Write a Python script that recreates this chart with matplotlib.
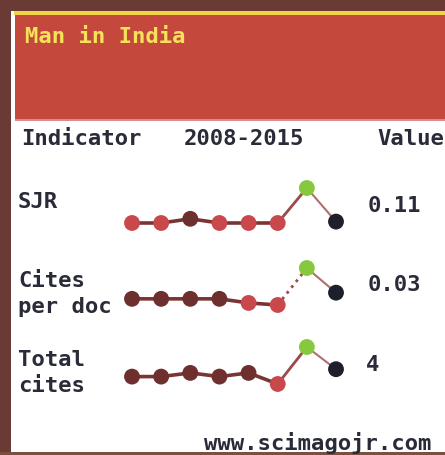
import matplotlib
matplotlib.use("Agg")
import matplotlib.pyplot as plt
from matplotlib.patches import Rectangle

W, H = 445, 455

title = "Man in India"
period = "2008-2015"
years = [2008, 2009, 2010, 2011, 2012, 2013, 2014, 2015]
indicator_labels = ["SJR", "Cites\nper doc", "Total\ncites"]
value_labels = ["0.11", "0.03", "4"]
sjr = [0.10, 0.10, 0.13, 0.10, 0.10, 0.10, 0.35, 0.11]
cites_per_doc = [0.015, 0.015, 0.015, 0.015, 0.005, 0.0, 0.09, 0.03]
total_cites = [2, 2, 3, 2, 3, 0, 10, 4]

RED = "#c9484c"
BROWN = "#6e2f2f"
GREEN = "#86c83e"
BLACK = "#1d1f2a"
sjr_colors = [RED, RED, BROWN, RED, RED, RED, GREEN, BLACK]
cpd_colors = [BROWN, BROWN, BROWN, BROWN, RED, RED, GREEN, BLACK]
tc_colors = [BROWN, BROWN, BROWN, BROWN, BROWN, RED, GREEN, BLACK]

fig = plt.figure(figsize=(W / 100, H / 100), dpi=100)
fig.patch.set_facecolor("white")

bg = fig.add_axes([0, 0, 1, 1])
bg.set_xlim(0, W)
bg.set_ylim(H, 0)
bg.axis("off")

# scan border and header
border = "#6a3a34"
bg.add_patch(Rectangle((0, 0), W, 11, color=border, lw=0))
bg.add_patch(Rectangle((0, 0), 11, H, color=border, lw=0))
bg.add_patch(Rectangle((0, 452), W, 3, color="#7a5040", lw=0))
bg.add_patch(Rectangle((14, 11), W - 14, 4, color="#f2d24a", lw=0))
bg.add_patch(Rectangle((15, 15), W - 15, 104, color="#c4493c", lw=0))
bg.add_patch(Rectangle((15, 119), W - 15, 2, color="#d88a9a", lw=0))

mono = dict(family="DejaVu Sans Mono", fontweight="bold")
tc = "#2a2b38"
FS = 16
bg.text(25, 37, title, color="#f6e25a", fontsize=16, va="center", ha="left", **mono)
bg.text(21, 139, "Indicator", color=tc, fontsize=FS, va="center", ha="left", **mono)
bg.text(184, 139, period, color=tc, fontsize=FS, va="center", ha="left", **mono)
bg.text(377, 139, "Value", color=tc, fontsize=FS, va="center", ha="left", **mono)

label_y = [202, 294, 373]
value_y = [206, 285, 365]
value_x = [368, 368, 366]
for lab, ly, v, vy, vx in zip(indicator_labels, label_y, value_labels, value_y, value_x):
    bg.text(18, ly, lab, color=tc, fontsize=FS, va="center", ha="left",
            linespacing=1.4, **mono)
    bg.text(vx, vy, v, color=tc, fontsize=FS, va="center", ha="left", **mono)

bg.text(204, 443, "www.scimagojr.com", color=tc, fontsize=FS, va="center", ha="left", **mono)

# sparklines
x0, x1 = 132, 336
panels = [
    (sjr, sjr_colors, 223, 188, "solid"),
    (cites_per_doc, cpd_colors, 305, 268, "dotted"),
    (total_cites, tc_colors, 384, 347, "solid"),
]
for vals, cols, ybot, ytop, style in panels:
    ax = fig.add_axes([x0 / W, 1 - ybot / H, (x1 - x0) / W, (ybot - ytop) / H])
    ax.set_xlim(years[0], years[-1])
    ax.set_ylim(min(vals), max(vals))
    ax.axis("off")
    ax.plot(years[:6], vals[:6], color="#7b3434", lw=2.6, clip_on=False, zorder=1)
    ax.plot(years[5:7], vals[5:7], color="#9a4a4a", lw=2.0, ls=style,
            clip_on=False, zorder=1)
    ax.plot(years[6:8], vals[6:8], color="#b07070", lw=1.5, clip_on=False, zorder=1)
    ax.scatter(years, vals, s=130, c=cols, clip_on=False, zorder=2, linewidths=0)

fig.savefig("out.png", dpi=100, facecolor="white")
